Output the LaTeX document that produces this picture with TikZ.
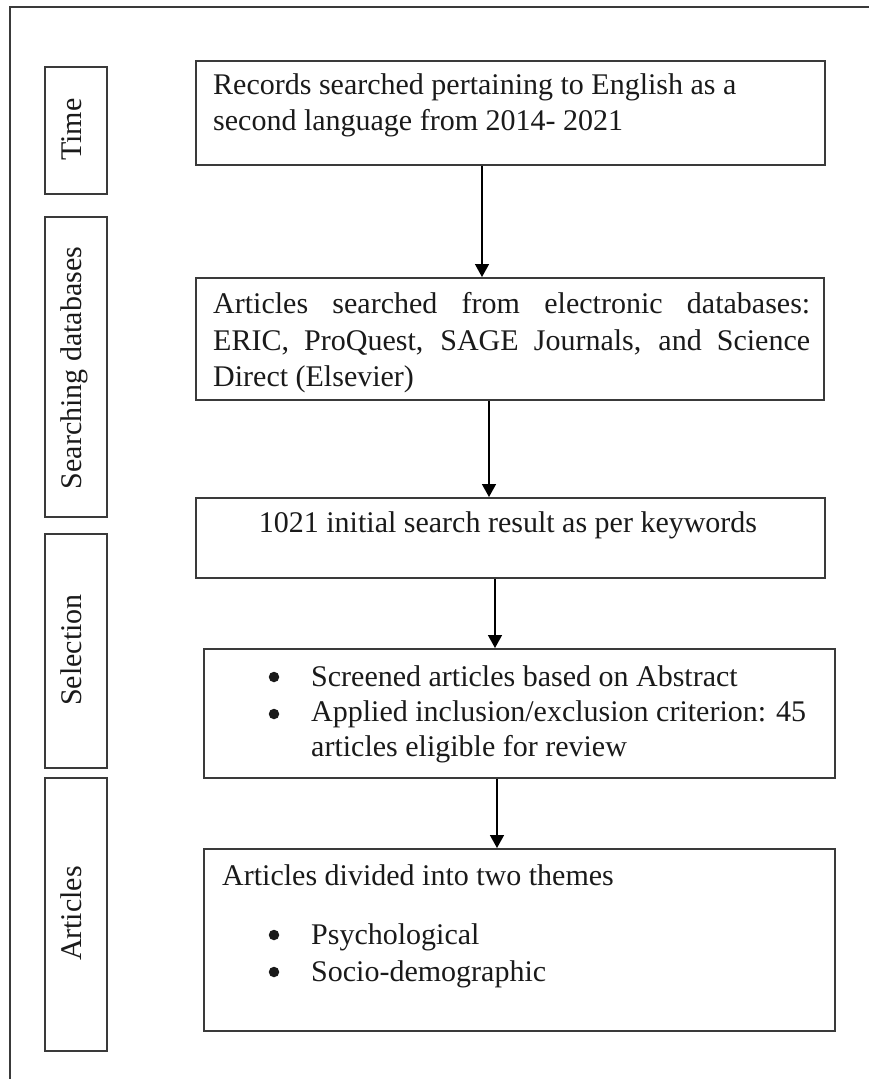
\documentclass[tikz,border=0pt]{standalone}
\usepackage{fontspec}
\setmainfont{Liberation Serif}
\usetikzlibrary{arrows.meta}
\definecolor{boxgray}{HTML}{3A3A3A}
\definecolor{textblack}{HTML}{1A1A1A}
\begin{document}
\begin{tikzpicture}[x=1pt,y=-1pt,
  box/.style={draw=boxgray, line width=2pt, rectangle, inner sep=0pt, anchor=north west},
  txt/.style={inner sep=0pt, anchor=base west, text=textblack, font=\fontsize{30}{36}\selectfont},
  ctxt/.style={txt, anchor=base},
  lab/.style={inner sep=0pt, rotate=90, anchor=base, text=textblack, font=\fontsize{30}{36}\selectfont},
  dot/.style={circle, fill=textblack, inner sep=0pt, minimum size=10.5pt},
  arr/.style={draw=black, line width=1.5pt, -{Triangle[width=14pt,length=13pt]}},
  framel/.style={draw=boxgray, line width=1.5pt}]
\fill[white] (0,0) rectangle (870,1079);
\useasboundingbox (0,0) rectangle (870,1079);
% outer frame (right and bottom sides fall outside the picture)
\draw[framel] (10,1079) -- (10,7) -- (869,7);

% left stage boxes
\node[box, minimum width=62pt, minimum height=127pt] (l1) at (44,66) {};
\node[box, minimum width=62pt, minimum height=300pt] (l2) at (44,216) {};
\node[box, minimum width=62pt, minimum height=234pt] (l3) at (44,533) {};
\node[box, minimum width=62pt, minimum height=273pt] (l4) at (44,777) {};
\node[lab] (t1) at (81,129.5) {Time};
\node[lab] (t2) at (81,368) {Searching databases};
\node[lab] (t3) at (81,650) {Selection};
\node[lab] (t4) at (81,913.5) {Articles};

% main boxes
\node[box, minimum width=629pt, minimum height=104pt] (b1) at (195,60) {};
\node[box, minimum width=628pt, minimum height=122pt] (b2) at (195,277) {};
\node[box, minimum width=629pt, minimum height=80pt] (b3) at (195,497) {};
\node[box, minimum width=631pt, minimum height=129pt] (b4) at (203,648) {};
\node[box, minimum width=631pt, minimum height=182pt] (b5) at (203,848) {};

% texts
\node[txt] (b1a) at (213,94) {Records searched pertaining to English as a};
\node[txt] (b1b) at (213,130) {second language from 2014- 2021};

\node[txt] (b2a) at (213,313) {\makebox[597pt][s]{Articles searched from electronic databases:}};
\node[txt] (b2b) at (213,350) {\makebox[597pt][s]{ERIC, ProQuest, SAGE Journals, and Science}};
\node[txt] (b2c) at (213,386) {Direct (Elsevier)};

\node[ctxt] (b3a) at (508,532) {1021 initial search result as per keywords};

\node[dot] (b4d1) at (274,677) {};
\node[txt] (b4a) at (311,686) {Screened articles based on Abstract};
\node[dot] (b4d2) at (274,714) {};
\node[txt] (b4b) at (311,721) {Applied inclusion/exclusion criterion: 45};
\node[txt] (b4c) at (311,756) {articles eligible for review};

\node[txt] (b5a) at (222,885) {Articles divided into two themes};
\node[dot] (b5d1) at (274,935) {};
\node[txt] (b5b) at (311,944) {Psychological};
\node[dot] (b5d2) at (274,972) {};
\node[txt] (b5c) at (311,981) {Socio-demographic};

% connectors
\coordinate (x1) at (482,0);
\coordinate (x2) at (489,0);
\coordinate (x3) at (495,0);
\coordinate (x4) at (497,0);
\draw[arr] (b1.south -| x1) -- (b2.north -| x1);
\draw[arr] (b2.south -| x2) -- (b3.north -| x2);
\draw[arr] (b3.south -| x3) -- (b4.north -| x3);
\draw[arr] (b4.south -| x4) -- (b5.north -| x4);
\end{tikzpicture}
\end{document}
